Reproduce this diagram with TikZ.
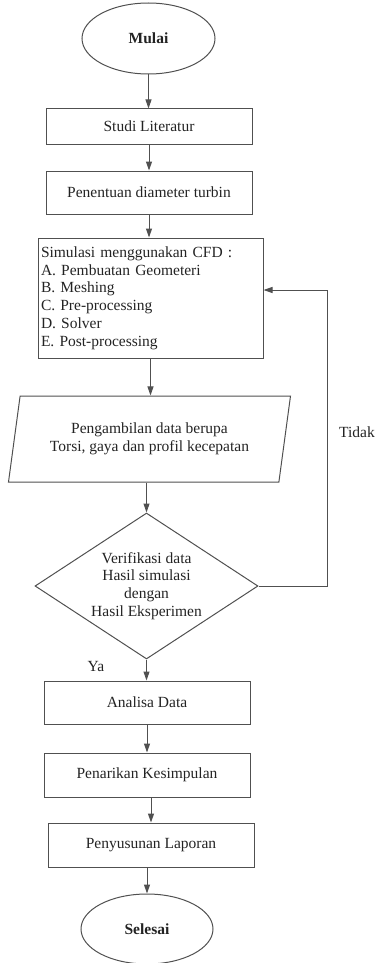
\documentclass[tikz,border=0pt]{standalone}
\usepackage{fontspec}
\setmainfont{Liberation Serif}
\usepackage{tikz}
\usetikzlibrary{shapes.geometric, arrows.meta, positioning, calc}
\definecolor{linegray}{RGB}{80, 80, 80}
\definecolor{textgray}{RGB}{35, 35, 35}

\begin{document}
\begin{tikzpicture}[x=1pt, y=-1pt,
    every node/.style={font=\fontsize{15.5}{17.8}\selectfont, text=textgray},
    terminal/.style={draw=linegray, line width=1pt, ellipse, minimum width=133pt, minimum height=71pt, inner sep=0pt, font=\fontsize{15.5}{17.8}\selectfont\bfseries},
    procbox/.style={draw=linegray, line width=1pt, rectangle, minimum width=206pt, inner sep=0pt},
    databox/.style={draw=linegray, line width=1pt, trapezium, trapezium left angle=70, trapezium right angle=110, minimum width=282pt, minimum height=86pt, trapezium stretches body, inner sep=0pt, align=center},
    decision/.style={draw=linegray, line width=1pt, diamond, aspect=1.53, minimum width=223pt, minimum height=146pt, inner sep=0pt, align=center},
    flow/.style={draw=linegray, line width=1pt, -{Triangle[length=9pt, width=6pt]}}]
  \useasboundingbox (0, 0) rectangle (377, 963);

  \node[terminal] (start) at (148.5, 38.5) {Mulai};
  \node[procbox, minimum height=35pt] (lit) at (149, 126.5) {Studi Literatur};
  \node[procbox, minimum height=43pt] (diam) at (149, 192.5) {Penentuan diameter turbin};
  \node[procbox, minimum width=225pt, minimum height=120pt, text width=219pt, align=left] (sim) at (150.5, 298) {
    Simulasi menggunakan CFD :\\
    A. Pembuatan Geometeri\\
    B. Meshing\\
    C. Pre-processing\\
    D. Solver\\
    E. Post-processing};
  \node[databox] (data) at (149.5, 439) {Pengambilan data berupa\\Torsi, gaya dan profil kecepatan};
  \node[decision] (verif) at (146.5, 586) {Verifikasi data\\Hasil simulasi\\dengan\\Hasil Eksperimen};
  \node[procbox, minimum height=43pt] (anal) at (147, 702.5) {Analisa Data};
  \node[procbox, minimum height=44pt] (concl) at (147, 775) {Penarikan Kesimpulan};
  \node[procbox, minimum height=44pt] (report) at (151, 845) {Penyusunan Laporan};
  \node[terminal, minimum width=132pt, minimum height=70pt] (stop) at (147, 929) {Selesai};

  % labels of the decision
  \node (no) at (357, 432) {Tidak};
  \node (yes) at (96, 666) {Ya};

  % main flow
  \draw[flow] (start.south) -- (start.south |- lit.north);
  \draw[flow] (lit.south) -- (lit.south |- diam.north);
  \draw[flow] (diam.south) -- (diam.south |- sim.north);
  \draw[flow] (sim.south) -- (sim.south |- data.north);
  \draw[flow] (data.south -| verif.north) -- (verif.north);
  \draw[flow] (verif.south) -- (verif.south |- anal.north);
  \draw[flow] (anal.south) -- (anal.south |- concl.north);
  \draw[flow] (concl.south -| report.north) -- (report.north);
  \draw[flow] (report.south -| stop.north) -- (stop.north);

  % loop back
  \coordinate (back) at (327, 290);
  \draw[flow] (verif.east) -| (back) -- (sim.east |- back);
\end{tikzpicture}
\end{document}
